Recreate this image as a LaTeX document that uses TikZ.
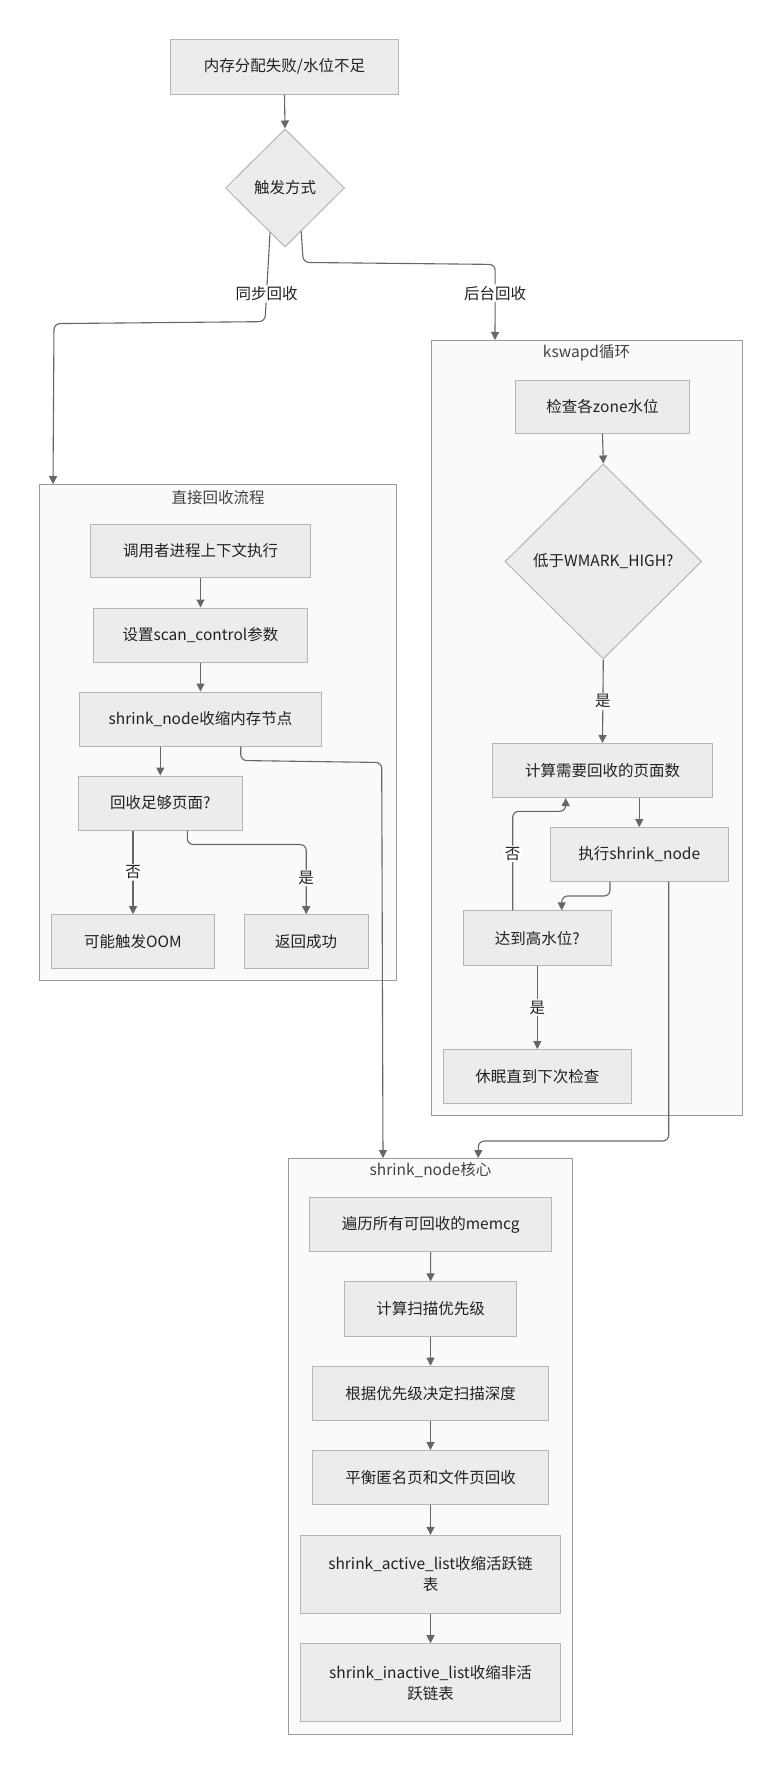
\documentclass[tikz,border=0pt]{standalone}
\usepackage{fontspec}
\setmainfont{Noto Sans CJK SC}
\usetikzlibrary{shapes.geometric,arrows.meta,calc}
\definecolor{boxfill}{HTML}{ECECEC}
\definecolor{boxline}{HTML}{B5B5B5}
\definecolor{clfill}{HTML}{FAFAFA}
\definecolor{clline}{HTML}{9A9A9A}
\definecolor{edgec}{HTML}{666666}
\definecolor{txt}{HTML}{222222}
\newcommand{\fnt}{\fontsize{15.5}{21}\selectfont}
\begin{document}
\begin{tikzpicture}[x=1pt,y=-1pt,
  box/.style={draw=boxline, fill=boxfill, line width=1pt, inner sep=0pt, text=txt, font=\fnt, align=center},
  dia/.style={diamond, draw=boxline, fill=boxfill, line width=1pt, inner sep=0pt, text=txt, font=\fnt},
  cluster/.style={draw=clline, fill=clfill, line width=1pt, inner sep=0pt},
  ctitle/.style={text=txt!85, font=\fnt, inner sep=0pt},
  edge/.style={draw=edgec, line width=1.1pt, -{Triangle[length=8pt,width=8pt]}, rounded corners=6pt},
  elabel/.style={fill=white, text=txt, font=\fnt, inner sep=1.5pt}
]
\fill[white] (0,0) rectangle (780,1771);
\useasboundingbox (0,0) rectangle (780,1771);

% clusters
\node[cluster, minimum width=356.6pt, minimum height=495.8pt] (c1) at (218,732.6) {};
\node[cluster, minimum width=311pt, minimum height=774.5pt] (c2) at (586.5,727.75) {};
\node[cluster, minimum width=284.4pt, minimum height=575.9pt] (c3) at (430.5,1446.45) {};
\node[ctitle] (t1) at ([yshift=-13pt]c1.north) {直接回收流程};
\node[ctitle] (t2) at ([yshift=-12.5pt]c2.north) {kswapd循环};
\node[ctitle] (t3) at ([yshift=-12.5pt]c3.north) {shrink\_node核心};

% top
\node[box, minimum width=228pt, minimum height=55pt] (n1) at (284.5,66.8) {内存分配失败/水位不足};
\node[dia, minimum width=119pt, minimum height=118pt] (d1) at (285,188) {触发方式};

% direct reclaim
\node[box, minimum width=220.4pt, minimum height=53.5pt] (s1) at (200.5,550.8) {调用者进程上下文执行};
\node[box, minimum width=214.4pt, minimum height=54pt] (s2) at (200.5,635) {设置scan\_control参数};
\node[box, minimum width=241.6pt, minimum height=54pt] (s3) at (200.5,719) {shrink\_node收缩内存节点};
\node[box, minimum width=164pt, minimum height=54pt] (s4) at (160.3,803) {回收足够页面?};
\node[box, minimum width=162.6pt, minimum height=54pt] (oom) at (133,941.7) {可能触发OOM};
\node[box, minimum width=124.3pt, minimum height=54pt] (ret) at (306.2,941.7) {返回成功};

% kswapd
\node[box, minimum width=173.6pt, minimum height=53pt] (k1) at (602.5,406.5) {检查各zone水位};
\node[dia, minimum width=196.7pt, minimum height=195pt] (kd) at (603.3,561.5) {低于WMARK\_HIGH?};
\node[box, minimum width=220.4pt, minimum height=54pt] (k2) at (602.5,770.5) {计算需要回收的页面数};
\node[box, minimum width=178pt, minimum height=53.4pt] (k3) at (639.3,854.3) {执行shrink\_node};
\node[box, minimum width=148pt, minimum height=54.6pt] (k4) at (537.3,938.1) {达到高水位?};
\node[box, minimum width=188pt, minimum height=53.4pt] (k5) at (537.3,1076.3) {休眠直到下次检查};

% shrink_node core
\node[box, minimum width=242pt, minimum height=54.2pt] (m1) at (430.7,1224.7) {遍历所有可回收的memcg};
\node[box, minimum width=172.4pt, minimum height=54.2pt] (m2) at (430.5,1309) {计算扫描优先级};
\node[box, minimum width=236.4pt, minimum height=54.2pt] (m3) at (430.5,1393.3) {根据优先级决定扫描深度};
\node[box, minimum width=236.4pt, minimum height=54.2pt] (m4) at (430.5,1477.6) {平衡匿名页和文件页回收};
\node[box, minimum width=260.4pt, minimum height=77.8pt] (m5) at (430.5,1574.2) {shrink\_active\_list收缩活跃链\\表};
\node[box, minimum width=260.4pt, minimum height=78.2pt] (m6) at (430.5,1682.8) {shrink\_inactive\_list收缩非活\\跃链表};

% edges: top
\draw[edge] (n1.south) -- (d1.north);
\draw[edge] ($(d1.south)!0.25!(d1.west)$) -- node[elabel, pos=0.69] (l1) {同步回收} ++(-5,89) -- ++(-211,2) -- ([xshift=-165pt]c1.north);
\draw[edge] ($(d1.south)!0.27!(d1.east)$) -- ++(2,31) -- ++(192,2) -- node[elabel, pos=0.38] (l2) {后台回收} ([xshift=-91.5pt]c2.north);

% edges: direct reclaim
\draw[edge] (s1.south) -- (s2.north);
\draw[edge] (s2.south) -- (s3.north);
\draw[edge] (s3.south -| s4.north) -- (s4.north);
\draw[edge] (s4.south -| oom.north) -- node[elabel] (l3) {否} (oom.north);
\draw[edge] ([xshift=27pt]s4.south) -- ++(0,14) -| node[elabel, pos=0.74] (l4) {是} (ret.north);
\draw[edge] ([xshift=40.2pt]s3.south) -- ++(0,14) -- ++(141,2) -- ([xshift=-47.5pt]c3.north);

% edges: kswapd
\draw[edge] (k1.south) -- (kd.north);
\draw[edge] (kd.south) -- node[elabel] (l5) {是} (k2.north);
\draw[edge] (k2.south -| k3.north) -- (k3.north);
\draw[edge] ([xshift=-29.3pt]k3.south) -- ++(0,14.5) -| ([xshift=24.4pt]k4.north);
\draw[edge] ([xshift=-24.6pt]k4.north) -- node[elabel, pos=0.57] (l6) {否} ++(0,-99) -| ([xshift=-36.8pt]k2.south);
\draw[edge] (k4.south) -- node[elabel] (l7) {是} (k5.north);
\draw[edge] ([xshift=29.4pt]k3.south) -- ++(0,259.5) -| ([xshift=47.8pt]c3.north);

% edges: shrink_node core
\draw[edge] (m1.south) -- (m2.north);
\draw[edge] (m2.south) -- (m3.north);
\draw[edge] (m3.south) -- (m4.north);
\draw[edge] (m4.south) -- (m5.north);
\draw[edge] (m5.south) -- (m6.north);
\end{tikzpicture}
\end{document}
